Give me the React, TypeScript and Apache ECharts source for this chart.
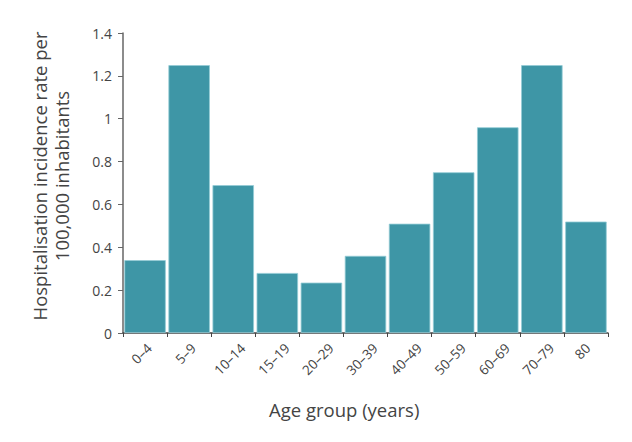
import React, { useEffect, useRef } from "react";
import * as echarts from "echarts";

const categories = ["0–4", "5–9", "10–14", "15–19", "20–29", "30–39", "40–49", "50–59", "60–69", "70–79", "80"];
const values = [0.34, 1.25, 0.69, 0.28, 0.235, 0.36, 0.51, 0.75, 0.96, 1.25, 0.52];
const yTicks = [0, 0.2, 0.4, 0.6, 0.8, 1, 1.2, 1.4];

const FONT = "Open Sans";
const XFS = 13.5;

export default function App() {
  const ref = useRef<HTMLDivElement>(null);
  useEffect(() => {
    document.body.style.margin = "0";
    if (!ref.current) return;
    const ctx = document.createElement("canvas").getContext("2d");
    const rich: Record<string, any> = {};
    categories.forEach((c, i) => {
      let w = c.length * XFS * 0.55;
      if (ctx) {
        ctx.font = `${XFS}px "${FONT}"`;
        w = ctx.measureText(c).width;
      }
      const p = (w + XFS) / 2;
      rich["l" + i] = {
        fontFamily: FONT,
        fontSize: XFS,
        color: "#444",
        padding: [p, p + 5, 5, 0],
      };
    });
    const chart = echarts.init(ref.current, undefined, { renderer: "svg" });
    chart.setOption({
      animation: false,
      backgroundColor: "#ffffff",
      grid: { left: 123, right: 24, top: 33, bottom: 109, containLabel: false },
      xAxis: {
        type: "category",
        data: categories,
        axisLine: { lineStyle: { color: "#444", width: 1.5 } },
        axisTick: { show: true, length: 4, alignWithLabel: false, lineStyle: { color: "#444" } },
        axisLabel: {
          rotate: 45,
          interval: 0,
          align: "center",
          verticalAlign: "middle",
          color: "#444",
          fontFamily: FONT,
          fontSize: XFS,
          margin: 8,
          formatter: (v: string, i: number) => `{l${i}|${v}}`,
          rich,
        },
      },
      yAxis: {
        type: "value",
        min: 0,
        max: 1.4,
        interval: 0.2,
        splitLine: { show: false },
        axisLine: { show: true, lineStyle: { color: "#666", width: 1.5 } },
        axisTick: { show: true, length: 5, lineStyle: { color: "#666" } },
        axisLabel: {
          color: "#444",
          fontFamily: FONT,
          fontSize: 14,
          margin: 11,
          formatter: (v: number) => {
            const t = yTicks.find((x) => Math.abs(x - v) < 1e-9);
            return t === undefined ? "" : String(Math.round(t * 10) / 10);
          },
        },
        name: "Hospitalisation incidence rate per\n100,000 inhabitants",
        nameLocation: "middle",
        nameGap: 51,
        nameTextStyle: {
          color: "#444",
          fontFamily: FONT,
          fontSize: 18.5,
          lineHeight: 22,
          padding: [0, 0, 0, 14],
        },
      },
      graphic: [
        {
          type: "text",
          left: 269,
          top: 400,
          style: {
            text: "Age group (years)",
            fill: "#444",
            font: `18.5px "${FONT}"`,
          },
        },
      ],
      series: [
        {
          type: "bar",
          data: values,
          barCategoryGap: "6%",
          itemStyle: {
            color: "#3e96a6",
            borderColor: "#93ccd5",
            borderWidth: 0.8,
          },
        },
      ],
    });
    return () => chart.dispose();
  }, []);
  return <div ref={ref} style={{ width: 632, height: 442 }} />;
}
